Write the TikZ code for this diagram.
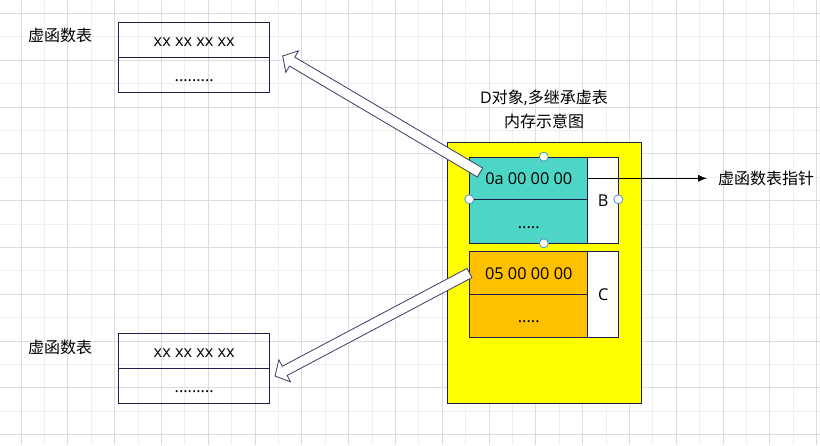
\documentclass[tikz,border=0pt]{standalone}
\usepackage{fontspec}
\setmainfont{Open Sans}
\newfontfamily\cjk{Noto Sans CJK SC}
\usetikzlibrary{calc,arrows.meta}
\definecolor{gridl}{HTML}{EFEFEF}
\definecolor{gridd}{HTML}{DCDCDC}
\definecolor{edge}{HTML}{1E1E4E}
\definecolor{arrowedge}{HTML}{3A3A66}
\definecolor{tealc}{HTML}{4DD6C5}
\definecolor{orangec}{HTML}{FFC000}
\definecolor{yellowc}{HTML}{FFFF00}
\definecolor{handlec}{HTML}{4A90E2}
\tikzset{
  cell/.style={draw=edge, line width=0.9pt, anchor=north west, inner sep=0pt,
    text height=13.5pt, text depth=0.5pt, font=\fontsize{16.3}{19}\selectfont},
  lbl/.style={inner sep=0pt, font=\fontsize{16}{19}\selectfont},
  hollow/.style={draw=arrowedge, fill=white, line width=0.8pt, line join=miter},
  handlept/.style={circle, draw=handlec, fill=white, line width=0.8pt, minimum size=9pt, inner sep=0pt},
  gridline/.style={line width=0.8pt},
}
\newcommand{\myhollowarrow}[4]{%
  \coordinate (hh) at ($(#2)!11pt!(#1)$);
  \draw[hollow] ($(#1)!#3!90:(#2)$) -- ($(hh)!#3!-90:(#1)$) -- ($(hh)!#4!-90:(#1)$) -- (#2)
    -- ($(hh)!#4!90:(#1)$) -- ($(hh)!#3!90:(#1)$) -- ($(#1)!#3!-90:(#2)$) -- cycle;}
\begin{document}
\begin{tikzpicture}[x=1pt,y=-1pt]
\useasboundingbox (0,0) rectangle (820,445);
\fill[white] (0,0) rectangle (820,445);
% grid
\foreach \i in {0,...,34} {
  \pgfmathsetmacro\xx{20.9+23.4*\i}
  \ifodd\i \draw[gridline,gridl] (\xx,0) -- (\xx,445); \fi
}
\foreach \i in {0,...,18} {
  \pgfmathsetmacro\yy{13.3+23.4*\i}
  \ifodd\i \draw[gridline,gridl] (0,\yy) -- (820,\yy); \fi
}
\foreach \i in {0,...,34} {
  \pgfmathsetmacro\xx{20.9+23.4*\i}
  \ifodd\i \else \draw[gridline,gridd] (\xx,0) -- (\xx,445); \fi
}
\foreach \i in {0,...,18} {
  \pgfmathsetmacro\yy{13.3+23.4*\i}
  \ifodd\i \else \draw[gridline,gridd] (0,\yy) -- (820,\yy); \fi
}

% left tables
\node[lbl] (lab1) at (60,35) {\cjk 虚函数表};
\node[cell, minimum width=151pt, minimum height=35pt] (t1a) at (118.3,22.3) {xx xx xx xx};
\node[cell, minimum width=151pt, minimum height=35pt] (t1b) at (118.3,57.3) {.........};
\node[lbl] (lab2) at (60,347) {\cjk 虚函数表};
\node[cell, minimum width=151pt, minimum height=35pt] (t2a) at (118.3,333.3) {xx xx xx xx};
\node[cell, minimum width=151pt, minimum height=35pt] (t2b) at (118.3,368.3) {.........};

% title
\node[lbl] (title1) at (544,98) {D{\cjk 对象},{\cjk 多继承虚表}};
\node[lbl] (title2) at (544,121) {\cjk 内存示意图};

% yellow object
\node[cell, fill=yellowc, minimum width=194.3pt, minimum height=261.6pt] (obj) at (446.7,141.7) {};
% B part
\node[cell, fill=tealc, minimum width=118pt, minimum height=42.6pt] (ba) at (469.3,156.7) {0a 00 00 00};
\node[cell, fill=tealc, minimum width=118pt, minimum height=44pt] (bb) at (469.3,199.3) {.....};
\node[cell, fill=white, minimum width=31pt, minimum height=86.6pt] (bw) at (587.3,156.7) {B};
% C part
\node[cell, fill=orangec, minimum width=118pt, minimum height=43.6pt] (ca) at (469.3,250.7) {05 00 00 00};
\node[cell, fill=orangec, minimum width=118pt, minimum height=42.7pt] (cb) at (469.3,294.3) {.....};
\node[cell, fill=white, minimum width=31pt, minimum height=86.3pt] (cw) at (587.3,250.7) {C};

% pointer
\node[lbl, anchor=west] (ptr) at (718,178.3) {\cjk 虚函数表指针};
\coordinate (ps) at (bw.west |- ptr.west);
\draw[black, line width=0.9pt, -{Latex[length=9pt,width=7pt]}] (ps) -- ([xshift=-11pt]ptr.west);

% hollow arrows
\coordinate (a1t) at (480,172.5);
\coordinate (a1p) at (282.7,56);
\myhollowarrow{a1t}{a1p}{5.2pt}{12.5pt}
\coordinate (a2t) at (469.5,273);
\coordinate (a2p) at (275,376);
\myhollowarrow{a2t}{a2p}{5.2pt}{12.5pt}

% selection handles
\node[handlept] (h1) at (543.8,156.7) {};
\node[handlept] (h2) at (469.3,199.3) {};
\node[handlept] (h3) at (618.3,199.3) {};
\node[handlept] (h4) at (543.8,243.3) {};
\end{tikzpicture}
\end{document}
